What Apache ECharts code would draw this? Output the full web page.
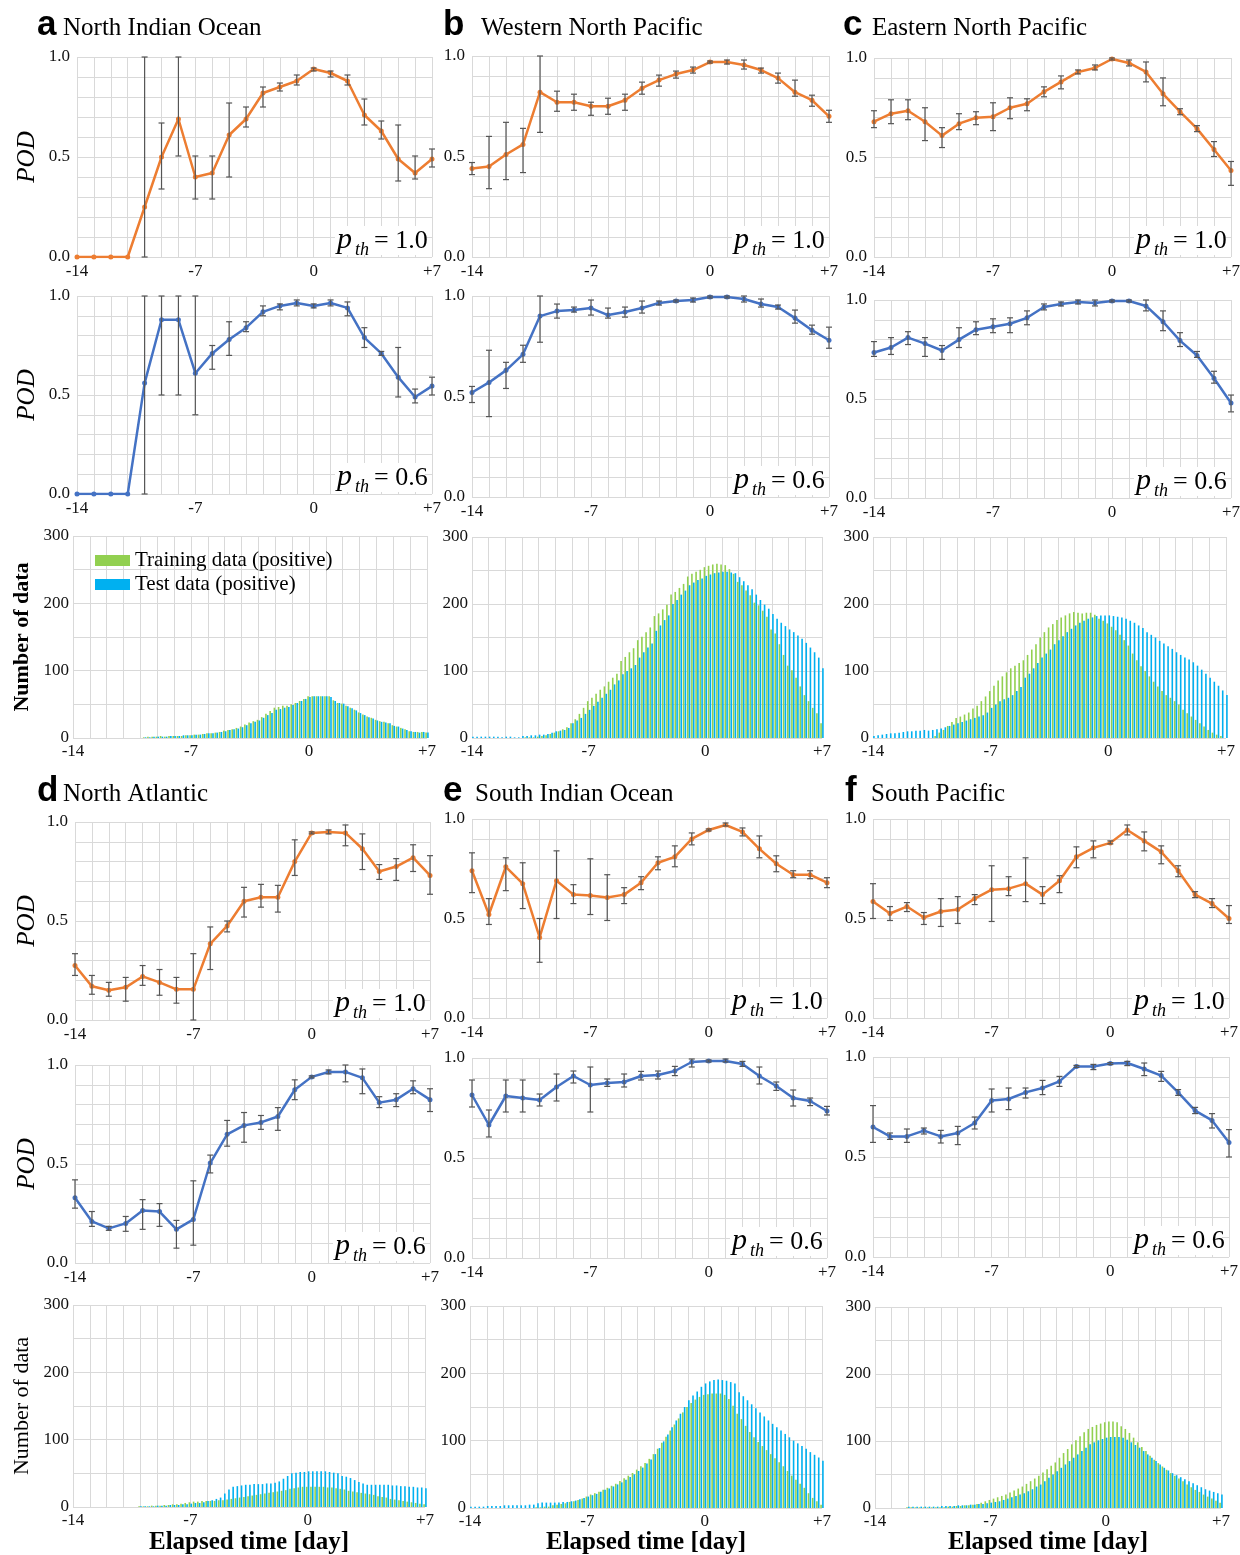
<!DOCTYPE html>
<html>
<head>
<meta charset="utf-8">
<script src="https://cdn.jsdelivr.net/npm/echarts@6/dist/echarts.min.js"></script>
<style>
  html, body { margin: 0; padding: 0; background: #fff; }
  #chart { width: 1240px; height: 1555px; }
</style>
</head>
<body>
<div id="chart"></div>
<script>
// elapsed days of the POD points
const days = [-14, -13, -12, -11, -10, -9, -8, -7, -6, -5, -4, -3, -2, -1, 0, 1, 2, 3, 4, 5, 6, 7];

// histogram bins (6-hourly)
const histBins = [
  -14, -13.75, -13.5, -13.25, -13, -12.75, -12.5, -12.25, -12, -11.75, -11.5, -11.25,
  -11, -10.75, -10.5, -10.25, -10, -9.75, -9.5, -9.25, -9, -8.75, -8.5, -8.25,
  -8, -7.75, -7.5, -7.25, -7, -6.75, -6.5, -6.25, -6, -5.75, -5.5, -5.25,
  -5, -4.75, -4.5, -4.25, -4, -3.75, -3.5, -3.25, -3, -2.75, -2.5, -2.25,
  -2, -1.75, -1.5, -1.25, -1, -0.75, -0.5, -0.25, 0, 0.25, 0.5, 0.75,
  1, 1.25, 1.5, 1.75, 2, 2.25, 2.5, 2.75, 3, 3.25, 3.5, 3.75,
  4, 4.25, 4.5, 4.75, 5, 5.25, 5.5, 5.75, 6, 6.25, 6.5, 6.75, 7
];

const xTickLabels = { '-14': '-14', '-7': '-7', '0': '0', '7': '+7' };

// a North Indian Ocean
const nioPod10   = [0, 0, 0, 0, 0.25, 0.50, 0.69, 0.40, 0.42, 0.61, 0.69, 0.82, 0.85, 0.88, 0.94, 0.92, 0.88, 0.71, 0.63, 0.49, 0.42, 0.49];
const nioPod10Lo = [0, 0, 0, 0, 0, 0.34, 0.505, 0.29, 0.29, 0.40, 0.65, 0.75, 0.83, 0.86, 0.93, 0.90, 0.86, 0.66, 0.59, 0.38, 0.39, 0.45];
const nioPod10Hi = [0, 0, 0, 0, 1.0, 0.67, 1.0, 0.505, 0.505, 0.77, 0.75, 0.85, 0.87, 0.91, 0.945, 0.93, 0.91, 0.79, 0.68, 0.66, 0.505, 0.54];
const nioPod06   = [0, 0, 0, 0, 0.56, 0.88, 0.88, 0.61, 0.71, 0.78, 0.84, 0.92, 0.95, 0.965, 0.95, 0.965, 0.94, 0.79, 0.71, 0.59, 0.49, 0.545];
const nioPod06Lo = [0, 0, 0, 0, 0, 0.50, 0.50, 0.40, 0.63, 0.70, 0.82, 0.90, 0.93, 0.95, 0.94, 0.95, 0.90, 0.74, 0.70, 0.49, 0.46, 0.50];
const nioPod06Hi = [0, 0, 0, 0, 1.0, 1.0, 1.0, 1.0, 0.75, 0.87, 0.87, 0.95, 0.96, 0.98, 0.96, 0.98, 0.97, 0.84, 0.72, 0.74, 0.53, 0.59];
const nioTrain = [
  0, 0, 0, 0, 0, 0, 0, 0, 0, 0, 0, 0, 0, 0, 0, 0,
  0, 1, 2, 2, 2, 3, 2, 3, 3, 3, 3, 4, 4, 5, 5, 6,
  7, 7, 8, 9, 11, 12, 13, 15, 17, 20, 23, 25, 27, 31, 36, 40,
  45, 46, 48, 48, 50, 52, 55, 58, 62, 62, 62, 62, 62, 62, 56, 52,
  51, 48, 45, 42, 38, 35, 32, 30, 27, 25, 24, 22, 19, 17, 15, 13,
  10, 9, 9, 9, 8
];
const nioTest = [
  0, 0, 0, 0, 0, 0, 0, 0, 0, 0, 0, 0, 0, 0, 0, 0,
  0, 1, 1, 2, 2, 2, 2, 3, 3, 3, 4, 4, 4, 5, 5, 6,
  7, 7, 8, 9, 10, 12, 13, 14, 16, 19, 22, 24, 26, 30, 34, 37,
  42, 43, 45, 46, 49, 52, 55, 58, 61, 62, 62, 62, 62, 61, 55, 52,
  51, 47, 44, 41, 37, 34, 31, 29, 26, 24, 23, 22, 18, 17, 14, 12,
  10, 9, 8, 9, 8
];

// b Western North Pacific
const wnpPod10   = [0.44, 0.45, 0.51, 0.56, 0.82, 0.77, 0.77, 0.75, 0.75, 0.78, 0.84, 0.88, 0.91, 0.93, 0.97, 0.97, 0.955, 0.93, 0.89, 0.82, 0.78, 0.70];
const wnpPod10Lo = [0.41, 0.34, 0.385, 0.42, 0.62, 0.725, 0.73, 0.705, 0.71, 0.73, 0.81, 0.85, 0.89, 0.915, 0.965, 0.96, 0.935, 0.915, 0.865, 0.80, 0.75, 0.67];
const wnpPod10Hi = [0.47, 0.60, 0.67, 0.64, 1.0, 0.825, 0.81, 0.77, 0.79, 0.81, 0.87, 0.905, 0.925, 0.945, 0.975, 0.98, 0.98, 0.94, 0.915, 0.88, 0.805, 0.73];
const wnpPod06   = [0.52, 0.57, 0.63, 0.71, 0.90, 0.925, 0.93, 0.94, 0.905, 0.92, 0.94, 0.965, 0.975, 0.98, 0.995, 0.995, 0.985, 0.96, 0.945, 0.89, 0.83, 0.78];
const wnpPod06Lo = [0.47, 0.40, 0.54, 0.67, 0.77, 0.89, 0.92, 0.905, 0.89, 0.895, 0.915, 0.955, 0.97, 0.97, 0.99, 0.99, 0.97, 0.945, 0.935, 0.865, 0.81, 0.74];
const wnpPod06Hi = [0.55, 0.73, 0.67, 0.755, 1.0, 0.96, 0.945, 0.98, 0.94, 0.945, 0.975, 0.975, 0.98, 0.99, 1.0, 1.0, 1.0, 0.985, 0.955, 0.93, 0.855, 0.845];
const wnpTrain = [
  0, 0, 0, 0, 0, 0, 0, 0, 0, 0, 0, 0, 0, 1, 1, 1,
  2, 3, 4, 6, 8, 10, 13, 16, 22, 28, 36, 45, 55, 60, 66, 72,
  77, 84, 90, 96, 115, 121, 128, 134, 146, 151, 158, 165, 182, 186, 192, 199,
  214, 218, 224, 230, 241, 245, 248, 251, 255, 257, 259, 260, 259, 258, 252, 245,
  233, 228, 220, 213, 202, 198, 190, 181, 162, 156, 140, 124, 108, 101, 90, 77,
  64, 55, 45, 37, 22
];
const wnpTest = [
  2, 2, 2, 2, 2, 2, 2, 1, 2, 2, 1, 1, 3, 3, 4, 4,
  5, 5, 6, 8, 10, 11, 12, 15, 22, 26, 30, 36, 42, 48, 54, 60,
  66, 72, 80, 86, 95, 100, 104, 109, 120, 128, 135, 141, 160, 168, 176, 183,
  200, 206, 214, 220, 228, 232, 236, 238, 242, 244, 246, 247, 248, 248, 247, 246,
  240, 234, 228, 222, 214, 206, 199, 193, 185, 178, 172, 167, 162, 158, 153, 148,
  142, 135, 128, 120, 104
];

// c Eastern North Pacific
const enpPod10   = [0.68, 0.72, 0.735, 0.68, 0.61, 0.67, 0.70, 0.705, 0.75, 0.77, 0.83, 0.88, 0.93, 0.95, 0.995, 0.975, 0.93, 0.82, 0.73, 0.645, 0.54, 0.435];
const enpPod10Lo = [0.65, 0.67, 0.69, 0.585, 0.55, 0.64, 0.665, 0.635, 0.695, 0.735, 0.805, 0.845, 0.92, 0.94, 0.99, 0.96, 0.88, 0.76, 0.715, 0.63, 0.505, 0.36];
const enpPod10Hi = [0.735, 0.79, 0.79, 0.75, 0.65, 0.72, 0.73, 0.775, 0.80, 0.795, 0.855, 0.91, 0.94, 0.965, 1.0, 0.99, 0.98, 0.90, 0.745, 0.66, 0.58, 0.48];
const enpPod06   = [0.735, 0.76, 0.81, 0.78, 0.745, 0.80, 0.85, 0.865, 0.88, 0.91, 0.965, 0.98, 0.99, 0.985, 0.995, 0.995, 0.97, 0.89, 0.795, 0.72, 0.605, 0.48];
const enpPod06Lo = [0.715, 0.725, 0.775, 0.715, 0.70, 0.76, 0.825, 0.835, 0.835, 0.875, 0.95, 0.97, 0.98, 0.97, 0.99, 0.99, 0.945, 0.845, 0.765, 0.71, 0.58, 0.435];
const enpPod06Hi = [0.79, 0.81, 0.84, 0.81, 0.77, 0.86, 0.89, 0.905, 0.91, 0.945, 0.98, 0.99, 1.0, 1.0, 1.0, 1.0, 1.0, 0.945, 0.835, 0.74, 0.64, 0.52];
const enpTrain = [
  0, 0, 0, 0, 0, 0, 0, 0, 0, 0, 0, 0, 0, 0, 0, 3,
  8, 12, 18, 24, 30, 32, 35, 38, 44, 48, 55, 62, 70, 78, 86, 92,
  98, 104, 108, 112, 116, 124, 132, 140, 150, 158, 165, 170, 176, 180, 183, 186,
  188, 187, 186, 187, 187, 184, 178, 175, 171, 166, 161, 154, 146, 138, 126, 116,
  107, 100, 92, 84, 77, 70, 64, 60, 55, 50, 42, 37, 32, 27, 22, 17,
  12, 8, 5, 3, 0
];
const enpTest = [
  3, 4, 5, 6, 7, 7, 8, 9, 10, 10, 11, 11, 12, 11, 12, 13,
  14, 16, 18, 20, 22, 24, 26, 28, 30, 32, 34, 38, 45, 50, 55, 58,
  60, 64, 70, 76, 90, 96, 104, 112, 120, 126, 132, 140, 146, 152, 158, 163,
  168, 172, 175, 178, 180, 182, 183, 183, 183, 182, 181, 180, 178, 175, 172, 168,
  164, 158, 154, 150, 145, 141, 137, 133, 128, 124, 120, 117, 113, 108, 102, 96,
  90, 84, 78, 71, 64
];

// d North Atlantic
const natPod10   = [0.275, 0.17, 0.15, 0.165, 0.22, 0.19, 0.155, 0.155, 0.385, 0.475, 0.60, 0.62, 0.62, 0.80, 0.945, 0.95, 0.945, 0.865, 0.75, 0.775, 0.82, 0.73];
const natPod10Lo = [0.225, 0.13, 0.12, 0.095, 0.175, 0.125, 0.085, 0.0, 0.255, 0.445, 0.52, 0.57, 0.545, 0.73, 0.94, 0.94, 0.88, 0.76, 0.71, 0.705, 0.75, 0.635];
const natPod10Hi = [0.335, 0.225, 0.19, 0.215, 0.275, 0.255, 0.215, 0.335, 0.47, 0.50, 0.67, 0.685, 0.68, 0.91, 0.95, 0.96, 0.985, 0.94, 0.785, 0.815, 0.885, 0.83];
const natPod06   = [0.33, 0.21, 0.175, 0.20, 0.265, 0.26, 0.17, 0.22, 0.505, 0.65, 0.695, 0.71, 0.74, 0.875, 0.94, 0.965, 0.965, 0.935, 0.81, 0.825, 0.88, 0.825];
const natPod06Lo = [0.277, 0.185, 0.165, 0.16, 0.17, 0.185, 0.075, 0.09, 0.455, 0.59, 0.61, 0.675, 0.67, 0.825, 0.935, 0.955, 0.915, 0.855, 0.785, 0.79, 0.855, 0.765];
const natPod06Hi = [0.42, 0.26, 0.185, 0.235, 0.32, 0.30, 0.215, 0.415, 0.545, 0.72, 0.76, 0.745, 0.785, 0.925, 0.945, 0.975, 1.0, 0.98, 0.84, 0.855, 0.92, 0.88];
const natTrain = [
  0, 0, 0, 0, 0, 0, 0, 0, 0, 0, 0, 0, 0, 0, 0, 0,
  1, 1, 1, 2, 2, 2, 3, 3, 4, 4, 5, 6, 7, 8, 8, 9,
  9, 9, 9, 10, 10, 11, 12, 13, 14, 15, 16, 17, 18, 19, 20, 21,
  22, 23, 24, 25, 27, 28, 29, 30, 30, 30, 30, 30, 30, 29, 29, 28,
  27, 26, 24, 23, 22, 21, 20, 19, 18, 16, 15, 14, 12, 11, 10, 9,
  8, 7, 6, 5, 4
];
const natTest = [
  0, 0, 0, 0, 0, 0, 0, 0, 0, 0, 0, 0, 0, 0, 0, 0,
  1, 1, 1, 1, 2, 2, 2, 3, 3, 3, 4, 4, 5, 6, 6, 7,
  9, 10, 12, 14, 20, 26, 30, 31, 32, 33, 33, 34, 34, 34, 35, 35,
  36, 38, 42, 46, 50, 51, 52, 52, 53, 53, 53, 53, 53, 52, 51, 50,
  46, 45, 43, 40, 37, 35, 33, 33, 33, 33, 33, 33, 32, 32, 31, 31,
  30, 30, 29, 29, 28
];

// e South Indian Ocean
const sioPod10   = [0.74, 0.52, 0.76, 0.675, 0.405, 0.69, 0.62, 0.615, 0.605, 0.62, 0.68, 0.78, 0.81, 0.90, 0.945, 0.97, 0.935, 0.85, 0.775, 0.72, 0.72, 0.68];
const sioPod10Lo = [0.63, 0.47, 0.64, 0.55, 0.28, 0.50, 0.575, 0.52, 0.49, 0.575, 0.645, 0.745, 0.76, 0.87, 0.94, 0.965, 0.915, 0.805, 0.735, 0.705, 0.70, 0.655];
const sioPod10Hi = [0.83, 0.60, 0.805, 0.78, 0.50, 0.84, 0.67, 0.80, 0.72, 0.655, 0.71, 0.81, 0.865, 0.93, 0.95, 0.98, 0.955, 0.915, 0.815, 0.74, 0.74, 0.705];
const sioPod06   = [0.815, 0.665, 0.81, 0.80, 0.79, 0.855, 0.91, 0.865, 0.875, 0.88, 0.91, 0.915, 0.935, 0.98, 0.985, 0.985, 0.97, 0.91, 0.86, 0.80, 0.785, 0.735];
const sioPod06Lo = [0.755, 0.605, 0.73, 0.73, 0.76, 0.785, 0.875, 0.73, 0.858, 0.855, 0.89, 0.895, 0.912, 0.955, 0.98, 0.98, 0.958, 0.87, 0.838, 0.76, 0.762, 0.715];
const sioPod06Hi = [0.89, 0.74, 0.89, 0.89, 0.82, 0.92, 0.935, 0.955, 0.895, 0.92, 0.933, 0.935, 0.958, 0.995, 0.99, 0.995, 0.983, 0.955, 0.88, 0.84, 0.80, 0.758];
const sioTrain = [
  0, 0, 0, 0, 0, 0, 0, 0, 0, 0, 0, 0, 0, 0, 0, 0,
  1, 1, 2, 2, 4, 5, 6, 7, 9, 10, 12, 14, 17, 20, 22, 24,
  27, 30, 33, 36, 40, 44, 48, 52, 57, 62, 67, 73, 80, 88, 97, 106,
  115, 124, 133, 142, 150, 156, 161, 165, 168, 169, 170, 170, 170, 168, 162, 152,
  140, 132, 122, 113, 105, 98, 92, 86, 80, 74, 68, 62, 55, 48, 42, 36,
  30, 22, 15, 10, 5
];
const sioTest = [
  2, 2, 2, 2, 3, 3, 3, 3, 4, 4, 4, 4, 4, 4, 5, 5,
  7, 8, 8, 8, 8, 8, 9, 9, 10, 11, 13, 15, 17, 19, 21, 24,
  27, 29, 32, 35, 38, 42, 46, 50, 55, 60, 66, 72, 80, 89, 99, 109,
  120, 130, 140, 150, 160, 167, 173, 180, 185, 188, 190, 191, 190, 189, 187, 185,
  172, 166, 160, 154, 148, 142, 136, 130, 125, 120, 115, 110, 105, 100, 96, 92,
  88, 83, 79, 75, 70
];

// f South Pacific
const spaPod10   = [0.585, 0.525, 0.56, 0.505, 0.535, 0.545, 0.60, 0.645, 0.65, 0.675, 0.62, 0.69, 0.81, 0.855, 0.88, 0.945, 0.89, 0.835, 0.74, 0.62, 0.575, 0.50];
const spaPod10Lo = [0.50, 0.49, 0.535, 0.47, 0.46, 0.475, 0.57, 0.485, 0.615, 0.585, 0.575, 0.63, 0.755, 0.805, 0.875, 0.92, 0.84, 0.775, 0.71, 0.605, 0.555, 0.475];
const spaPod10Hi = [0.675, 0.56, 0.58, 0.53, 0.60, 0.61, 0.62, 0.765, 0.71, 0.805, 0.66, 0.715, 0.86, 0.89, 0.89, 0.97, 0.935, 0.865, 0.765, 0.635, 0.60, 0.565];
const spaPod06   = [0.65, 0.603, 0.603, 0.632, 0.603, 0.62, 0.67, 0.783, 0.79, 0.823, 0.845, 0.878, 0.953, 0.953, 0.967, 0.97, 0.94, 0.907, 0.823, 0.732, 0.683, 0.573];
const spaPod06Lo = [0.573, 0.588, 0.573, 0.615, 0.57, 0.562, 0.64, 0.725, 0.737, 0.795, 0.812, 0.853, 0.948, 0.937, 0.962, 0.957, 0.907, 0.878, 0.808, 0.717, 0.645, 0.50];
const spaPod06Hi = [0.757, 0.62, 0.64, 0.645, 0.633, 0.653, 0.70, 0.84, 0.845, 0.845, 0.883, 0.903, 0.958, 0.963, 0.972, 0.978, 0.97, 0.928, 0.837, 0.748, 0.717, 0.637];
const spaTrain = [
  0, 0, 0, 0, 0, 0, 0, 0, 1, 1, 1, 1, 1, 1, 1, 1,
  1, 1, 2, 2, 3, 3, 4, 4, 5, 6, 8, 10, 12, 14, 16, 18,
  20, 23, 26, 29, 32, 36, 40, 44, 48, 53, 58, 63, 68, 75, 82, 88,
  95, 101, 107, 113, 118, 121, 124, 126, 128, 129, 129, 128, 122, 118, 112, 105,
  98, 91, 85, 78, 72, 67, 62, 57, 52, 48, 44, 40, 35, 31, 27, 24,
  20, 17, 14, 11, 8
];
const spaTest = [
  0, 0, 0, 0, 0, 0, 0, 0, 2, 2, 2, 2, 2, 2, 2, 2,
  3, 3, 3, 3, 4, 4, 4, 5, 5, 6, 6, 7, 8, 9, 10, 12,
  14, 16, 18, 20, 22, 25, 28, 32, 35, 40, 45, 50, 55, 60, 65, 70,
  75, 80, 85, 90, 95, 98, 101, 103, 105, 106, 106, 106, 105, 102, 98, 94,
  90, 85, 80, 75, 70, 65, 60, 56, 52, 49, 46, 43, 40, 37, 34, 31,
  28, 26, 24, 22, 20
];

const SERIF = '"Liberation Serif", "Times New Roman", serif';
const SANS = '"Liberation Sans", Arial, sans-serif';
const ORANGE = '#ED7D31';
const BLUE = '#4472C4';
const GREEN_BAR = '#92D050';
const BLUE_BAR = '#00B0F0';
const GRIDLINE = '#d9d9d9';

const panels = [
  { letter: 'a', title: 'North Indian Ocean', letterX: 37, titleX: 63, headY: 36,
    pod10: [nioPod10, nioPod10Lo, nioPod10Hi], pod06: [nioPod06, nioPod06Lo, nioPod06Hi], hist: [nioTrain, nioTest],
    b10: [77, 57, 432, 257], b06: [77, 296, 432, 494], bh: [73, 536, 427, 738] },
  { letter: 'b', title: 'Western North Pacific', letterX: 443, titleX: 481, headY: 36,
    pod10: [wnpPod10, wnpPod10Lo, wnpPod10Hi], pod06: [wnpPod06, wnpPod06Lo, wnpPod06Hi], hist: [wnpTrain, wnpTest],
    b10: [472, 56, 829, 257], b06: [472, 296, 829, 497], bh: [472, 537, 822, 738] },
  { letter: 'c', title: 'Eastern North Pacific', letterX: 843, titleX: 872, headY: 36,
    pod10: [enpPod10, enpPod10Lo, enpPod10Hi], pod06: [enpPod06, enpPod06Lo, enpPod06Hi], hist: [enpTrain, enpTest],
    b10: [874, 58, 1231, 257], b06: [874, 300, 1231, 498], bh: [873, 537, 1226, 738] },
  { letter: 'd', title: 'North Atlantic', letterX: 37, titleX: 63, headY: 802,
    pod10: [natPod10, natPod10Lo, natPod10Hi], pod06: [natPod06, natPod06Lo, natPod06Hi], hist: [natTrain, natTest],
    b10: [75, 822, 430, 1020], b06: [75, 1065, 430, 1263], bh: [73, 1305, 425, 1507] },
  { letter: 'e', title: 'South Indian Ocean', letterX: 443, titleX: 475, headY: 802,
    pod10: [sioPod10, sioPod10Lo, sioPod10Hi], pod06: [sioPod06, sioPod06Lo, sioPod06Hi], hist: [sioTrain, sioTest],
    b10: [472, 819, 827, 1018], b06: [472, 1058, 827, 1258], bh: [470, 1306, 822, 1508] },
  { letter: 'f', title: 'South Pacific', letterX: 845, titleX: 871, headY: 802,
    pod10: [spaPod10, spaPod10Lo, spaPod10Hi], pod06: [spaPod06, spaPod06Lo, spaPod06Hi], hist: [spaTrain, spaTest],
    b10: [873, 819, 1229, 1018], b06: [873, 1057, 1229, 1257], bh: [875, 1307, 1221, 1508] }
];

const grids = [], xAxes = [], yAxes = [], series = [], texts = [];

function txt(x, y, text, st, extra) {
  return Object.assign({
    type: 'text', x: x, y: y, silent: true, z: 10,
    style: Object.assign({ text: text, fontFamily: SERIF, fontSize: 17, fill: '#000', align: 'left', verticalAlign: 'middle' }, st)
  }, extra || {});
}

function addGrid(b, isHist) {
  const idx = grids.length;
  grids.push({ left: b[0], top: b[1], width: b[2] - b[0], height: b[3] - b[1], containLabel: false, outerBoundsMode: 'none' });
  xAxes.push({
    type: 'value', gridIndex: idx, min: -14, max: 7, interval: 1,
    axisLine: { show: false }, axisTick: { show: false },
    splitLine: { show: true, lineStyle: { color: GRIDLINE, width: 1 } },
    axisLabel: {
      margin: isHist ? 5 : 6, fontFamily: SERIF, fontSize: 17, color: '#111',
      showMinLabel: true, showMaxLabel: true,
      formatter: function (v) { return xTickLabels[String(v)] || ''; }
    }
  });
  yAxes.push(isHist ? {
    type: 'value', gridIndex: idx, min: 0, max: 300, interval: 50,
    axisLine: { show: false }, axisTick: { show: false },
    splitLine: { show: true, lineStyle: { color: GRIDLINE, width: 1 } },
    axisLabel: {
      margin: 4, fontFamily: SERIF, fontSize: 17, color: '#111',
      formatter: function (v) { return v % 100 === 0 ? String(v) : ''; }
    }
  } : {
    type: 'value', gridIndex: idx, min: 0, max: 1, interval: 0.1,
    axisLine: { show: false }, axisTick: { show: false },
    splitLine: { show: true, lineStyle: { color: GRIDLINE, width: 1 } },
    axisLabel: {
      margin: 7, fontFamily: SERIF, fontSize: 17, color: '#111',
      formatter: function (v) { const r = Math.round(v * 10); return r % 5 === 0 ? (r / 10).toFixed(1) : ''; }
    }
  });
  return idx;
}

function renderErr(params, api) {
  const x = api.value(0), lo = api.value(1), hi = api.value(2);
  if (hi - lo < 1e-6) return null;
  const a = api.coord([x, hi]), b = api.coord([x, lo]);
  const w = 3, st = { stroke: '#555', lineWidth: 1.2 };
  return {
    type: 'group', children: [
      { type: 'line', shape: { x1: a[0], y1: a[1], x2: b[0], y2: b[1] }, style: st },
      { type: 'line', shape: { x1: a[0] - w, y1: a[1], x2: a[0] + w, y2: a[1] }, style: st },
      { type: 'line', shape: { x1: b[0] - w, y1: b[1], x2: b[0] + w, y2: b[1] }, style: st }
    ]
  };
}

function addPod(b, arrs, color, pth) {
  const idx = addGrid(b, false);
  const vals = arrs[0], lo = arrs[1], hi = arrs[2];
  series.push({
    type: 'line', xAxisIndex: idx, yAxisIndex: idx, z: 2,
    data: days.map(function (d, i) { return [d, vals[i]]; }),
    symbol: 'circle', symbolSize: 5, showSymbol: true,
    lineStyle: { color: color, width: 2.5 }, itemStyle: { color: color }
  });
  series.push({
    type: 'custom', xAxisIndex: idx, yAxisIndex: idx, z: 3,
    encode: { x: 0, y: [1, 2] }, renderItem: renderErr,
    data: days.map(function (d, i) { return [d, lo[i], hi[i]]; })
  });
  // p_th label sits on a white patch that hides the grid lines
  const R = b[2], B = b[3];
  texts.push({ type: 'rect', silent: true, z: 9, shape: { x: R - 97, y: B - 31, width: 90, height: 29 }, style: { fill: '#fff' } });
  texts.push(txt(R - 95, B - 17, 'p', { fontSize: 30, fontStyle: 'italic' }));
  texts.push(txt(R - 77, B - 7, 'th', { fontSize: 18, fontStyle: 'italic' }));
  texts.push(txt(R - 58, B - 16, '= ' + pth, { fontSize: 26 }));
}

function addHist(b, arrs) {
  const idx = addGrid(b, true);
  series.push({
    type: 'bar', name: 'Training data (positive)', xAxisIndex: idx, yAxisIndex: idx,
    data: histBins.map(function (d, i) { return [d, arrs[0][i]]; }),
    barWidth: 1.6, barGap: '15%', itemStyle: { color: GREEN_BAR }
  });
  series.push({
    type: 'bar', name: 'Test data (positive)', xAxisIndex: idx, yAxisIndex: idx,
    data: histBins.map(function (d, i) { return [d, arrs[1][i]]; }),
    barWidth: 1.6, barGap: '15%', itemStyle: { color: BLUE_BAR }
  });
}

panels.forEach(function (p, k) {
  addPod(p.b10, p.pod10, ORANGE, '1.0');
  addPod(p.b06, p.pod06, BLUE, '0.6');
  addHist(p.bh, p.hist);
  texts.push(txt(p.letterX, p.headY - 11, p.letter, { fontFamily: SANS, fontSize: 35, fontWeight: 'bold' }));
  texts.push(txt(p.titleX, p.headY - 8, p.title, { fontSize: 25 }));
  if (k % 3 === 0) {
    [p.b10, p.b06].forEach(function (b) {
      texts.push(txt(27, (b[1] + b[3]) / 2, 'POD', { fontSize: 25, fontStyle: 'italic', align: 'center' }, { rotation: Math.PI / 2 }));
    });
    texts.push(txt(22, (p.bh[1] + p.bh[3]) / 2, 'Number of data',
      { fontSize: 22, fontWeight: k === 0 ? 'bold' : 'normal', align: 'center' }, { rotation: Math.PI / 2 }));
  }
  if (k >= 3) {
    texts.push(txt((p.bh[0] + p.bh[2]) / 2, 1543, 'Elapsed time [day]', { fontSize: 25, fontWeight: 'bold', align: 'center' }));
  }
});

const chart = echarts.init(document.getElementById('chart'), null, { renderer: 'canvas' });
chart.setOption({
  backgroundColor: '#fff',
  animation: false,
  grid: grids,
  xAxis: xAxes,
  yAxis: yAxes,
  legend: {
    left: 90, top: 545, orient: 'vertical', itemWidth: 35, itemHeight: 11, itemGap: 3,
    icon: 'rect', selectedMode: false,
    data: ['Training data (positive)', 'Test data (positive)'],
    textStyle: { fontFamily: SERIF, fontSize: 21, color: '#000', lineHeight: 21 }
  },
  series: series,
  graphic: { elements: texts }
});
</script>
</body>
</html>
